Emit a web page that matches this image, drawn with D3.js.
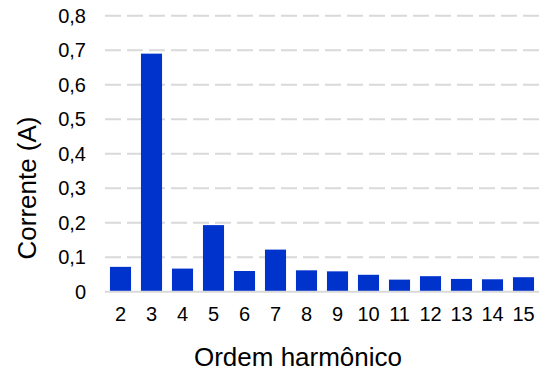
<!DOCTYPE html>
<html><head><meta charset="utf-8">
<script src="https://cdn.jsdelivr.net/npm/d3@7"></script>
<style>body{margin:0;background:#fff}</style>
</head><body>
<script>
const categories = ["2","3","4","5","6","7","8","9","10","11","12","13","14","15"];
const values = [0.072,0.69,0.067,0.193,0.06,0.122,0.062,0.059,0.049,0.035,0.045,0.037,0.036,0.042];
const yTicks = [0,0.1,0.2,0.3,0.4,0.5,0.6,0.7,0.8];
const xTitle = "Ordem harmônico";
const yTitle = "Corrente (A)";

const W = 548, H = 371;
const m = {left:105, right:9, top:15.7, bottom:79.3};
const FF = "'Liberation Sans', Arial, sans-serif";
const svg = d3.select("body").append("svg").attr("width",W).attr("height",H)
  .style("font-family",FF);
const x = d3.scaleBand().domain(categories).range([m.left, W-m.right]).paddingInner(0.32).paddingOuter(0.16);
const y = d3.scaleLinear().domain([0,0.8]).range([H-m.bottom, m.top]);
const fmt = d => d===0 ? "0" : d3.format(".1f")(d).replace(".", ",");

// gridlines
svg.append("g").selectAll("line").data(yTicks.filter(d=>d>0)).join("line")
  .attr("x1", m.left).attr("x2", W-m.right)
  .attr("y1", d=>y(d)).attr("y2", d=>y(d))
  .attr("stroke","#d9d9d9").attr("stroke-width",2).attr("stroke-dasharray","16,6");

// bars
svg.append("g").selectAll("rect").data(values).join("rect")
  .attr("x",(d,i)=>x(categories[i])).attr("width",x.bandwidth())
  .attr("y",d=>y(d)).attr("height",d=>y(0)-y(d))
  .attr("fill","#0033cc");

// baseline
svg.append("line").attr("x1",m.left).attr("x2",W-m.right)
  .attr("y1",y(0)).attr("y2",y(0)).attr("stroke","#d9d9d9").attr("stroke-width",2);

// y axis
const ya = svg.append("g").attr("transform",`translate(${m.left-8},0)`)
  .call(d3.axisLeft(y).tickValues(yTicks).tickFormat(fmt).tickSize(0).tickPadding(11));
ya.select(".domain").remove();
ya.selectAll("text").attr("font-size",20).attr("fill","#000").style("font-family",FF);

// x axis
const xa = svg.append("g").attr("transform",`translate(0,${y(0)})`)
  .call(d3.axisBottom(x).tickSize(0).tickPadding(15));
xa.select(".domain").remove();
xa.selectAll("text").attr("font-size",20).attr("fill","#000").style("font-family",FF);

// titles
svg.append("text").attr("x",298).attr("y",366).attr("text-anchor","middle")
  .attr("font-size",26).attr("fill","#000").text(xTitle);
svg.append("text").attr("transform",`translate(36,188) rotate(-90)`)
  .attr("text-anchor","middle").attr("font-size",26).attr("fill","#000").text(yTitle);
</script>
</body></html>
